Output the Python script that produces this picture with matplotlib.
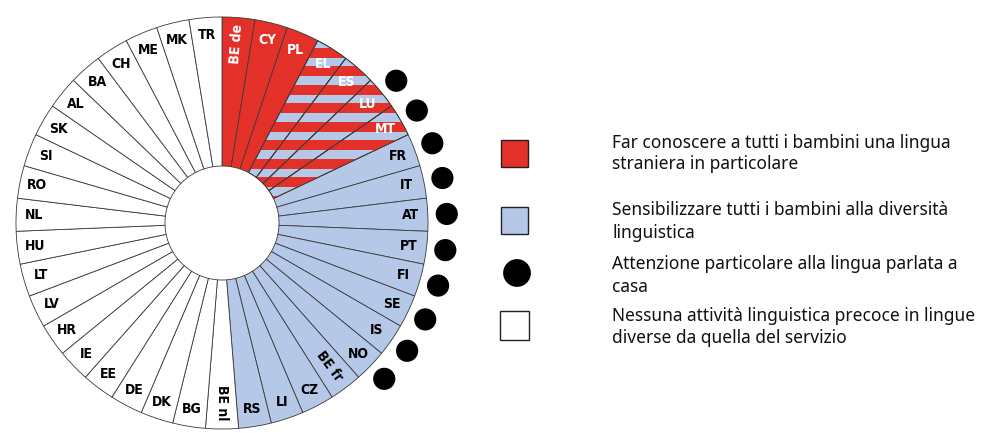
import matplotlib
matplotlib.use('Agg')
import matplotlib.pyplot as plt
import numpy as np
from matplotlib.patches import Rectangle, Wedge

# ---------------- data ----------------
countries = ['BE de', 'CY', 'PL', 'EL', 'ES', 'LU', 'MT', 'FR', 'IT', 'AT', 'PT', 'FI',
             'SE', 'IS', 'NO', 'BE fr', 'CZ', 'LI', 'RS', 'BE nl', 'BG', 'DK', 'DE', 'EE',
             'IE', 'HR', 'LV', 'LT', 'HU', 'NL', 'RO', 'SI', 'SK', 'AL', 'BA', 'CH', 'ME',
             'MK', 'TR']
# F = foreign language, FS = foreign language + sensitisation (striped),
# S = sensitisation to linguistic diversity, N = none
category = ['F', 'F', 'F', 'FS', 'FS', 'FS', 'FS',
            'S', 'S', 'S', 'S', 'S', 'S', 'S', 'S', 'S', 'S', 'S', 'S',
            'N', 'N', 'N', 'N', 'N', 'N', 'N', 'N', 'N', 'N', 'N', 'N', 'N', 'N',
            'N', 'N', 'N', 'N', 'N', 'N']
home_language = ['LU', 'MT', 'FR', 'IT', 'AT', 'PT', 'FI', 'SE', 'IS', 'NO']
rotated_labels = ['BE de', 'BE fr', 'BE nl']

legend_labels = [
    ["Far conoscere a tutti i bambini una lingua", "straniera in particolare"],
    ["Sensibilizzare tutti i bambini alla diversità", "linguistica"],
    ["Attenzione particolare alla lingua parlata a", "casa"],
    ["Nessuna attività linguistica precoce in lingue", "diverse da quella del servizio"],
]

# ---------------- style ----------------
RED = '#E3312A'
BLUE = '#B6C8E8'
EDGE = '#3a3a3a'
W, H = 1005, 433
cx, cy = 222, H - 223
R, r_in = 206, 57

fill_colors = {'F': RED, 'FS': BLUE, 'S': BLUE, 'N': 'white'}
text_colors = {'F': 'white', 'FS': 'white', 'S': 'black', 'N': 'black'}

fig = plt.figure(figsize=(W / 100, H / 100), dpi=100)
ax = fig.add_axes([0, 0, 1, 1])

n = len(countries)
wedges, _ = ax.pie(np.ones(n), startangle=90, counterclock=False, radius=R,
                   center=(cx, cy), colors=[fill_colors[c] for c in category],
                   wedgeprops=dict(width=R - r_in, edgecolor=EDGE, linewidth=0.6))
ax.set_xlim(0, W)
ax.set_ylim(0, H)
ax.set_aspect('equal')
ax.axis('off')

# stripes in the combined wedges
period, thick = 18.5, 10
stripe_centres = H - (108 + period * np.arange(-7, 8))
for w, c in zip(wedges, category):
    if c != 'FS':
        continue
    for yc in stripe_centres:
        rect = Rectangle((cx - 5, yc - thick / 2), R + 10, thick, facecolor=RED,
                         edgecolor='none', zorder=w.get_zorder() + 0.1)
        ax.add_patch(rect)
        rect.set_clip_path(w)
    outline = Wedge((cx, cy), R, w.theta1, w.theta2, width=R - r_in, fill=False,
                    edgecolor=EDGE, linewidth=0.6, zorder=w.get_zorder() + 0.2)
    ax.add_patch(outline)

# labels
step = 360 / n
for i, (name, c) in enumerate(zip(countries, category)):
    theta = (i + 0.5) * step           # clockwise from top
    a = np.deg2rad(90 - theta)
    if name in rotated_labels:
        rr = 0.87 * R
        rot = 90 - theta
        if rot < -90:
            rot += 180
    else:
        rr = 0.915 * R
        rot = 0
    ax.text(cx + rr * np.cos(a), cy + rr * np.sin(a), name, ha='center', va='center',
            rotation=rot, rotation_mode='anchor', fontsize=10, fontweight='bold',
            fontstretch='condensed', color=text_colors[c], zorder=5)

# dots for home language
idx = [countries.index(c) for c in home_language]
ang = np.deg2rad(90 - (np.array(idx) + 0.5) * step)
rd = 1.092 * R
ax.scatter(cx + rd * np.cos(ang), cy + rd * np.sin(ang), s=255, color='black',
           edgecolors='none', zorder=5)

# legend
marker_y = [153, 220, 273, 325]
baselines = [(148, 169), (215, 238), (269, 292), (321, 343)]
kinds = ['F', 'S', 'dot', 'N']
for my, bl, kind, lines in zip(marker_y, baselines, kinds, legend_labels):
    if kind == 'dot':
        ax.scatter([517], [H - my], s=400, color='black', edgecolors='none')
    else:
        sz = 29 if kind == 'N' else 27
        ax.add_patch(Rectangle((514.5 - sz / 2, H - my - sz / 2), sz, sz,
                               facecolor=fill_colors[kind], edgecolor='#222',
                               linewidth=1.0))
    for ty, line in zip(bl, lines):
        ax.text(612, H - ty, line, ha='left', va='baseline', fontsize=12.5,
                family='Noto Sans', color='#111')

fig.savefig('out.png', dpi=100)
